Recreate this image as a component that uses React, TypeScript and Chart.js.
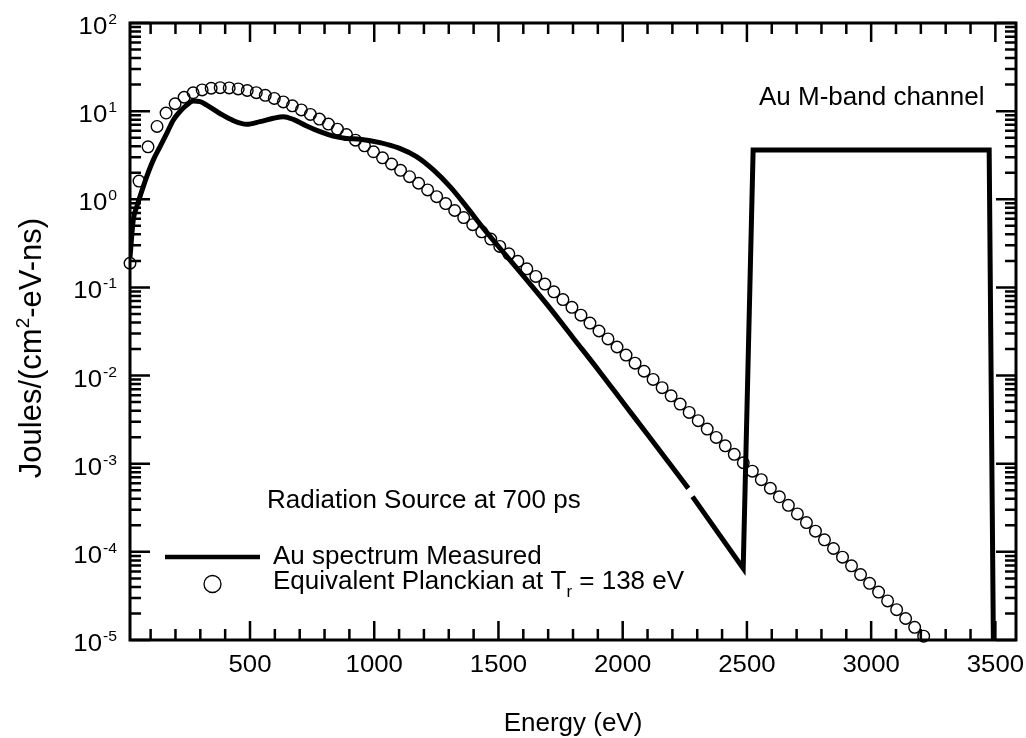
import React, { useEffect, useRef } from "react";
import { Chart, registerables } from "chart.js";

Chart.register(...registerables);

const FONT = '"Liberation Sans", Arial, Helvetica, sans-serif';

// ---- Planckian (open circles) ----
const planckEnergy = [
  17, 53.3, 89.6, 125.9, 162.2, 198.5, 234.8, 271.1, 307.4, 343.7,
  380, 416.3, 452.6, 488.9, 525.2, 561.5, 597.8, 634.1, 670.4, 706.7,
  743, 779.3, 815.6, 851.9, 888.2, 924.5, 960.8, 997.1, 1033.4, 1069.7,
  1106, 1142.3, 1178.6, 1214.9, 1251.2, 1287.5, 1323.8, 1360.1, 1396.4, 1432.7,
  1469, 1505.3, 1541.6, 1577.9, 1614.2, 1650.5, 1686.8, 1723.1, 1759.4, 1795.7,
  1832, 1868.3, 1904.6, 1940.9, 1977.2, 2013.5, 2049.8, 2086.1, 2122.4, 2158.7,
  2195, 2231.3, 2267.6, 2303.9, 2340.2, 2376.5, 2412.8, 2449.1, 2485.4, 2521.7,
  2558, 2594.3, 2630.6, 2666.9, 2703.2, 2739.5, 2775.8, 2812.1, 2848.4, 2884.7,
  2921, 2957.3, 2993.6, 3029.9, 3066.2, 3102.5, 3138.8, 3175.1, 3211.4,
];
const planckValue = [
  0.188, 1.61, 3.94, 6.7, 9.52, 12.13, 14.38, 16.16, 17.42, 18.18,
  18.47, 18.35, 17.88, 17.14, 16.19, 15.11, 13.93, 12.72, 11.5, 10.32,
  9.19, 8.13, 7.14, 6.24, 5.42, 4.69, 4.04, 3.46, 2.956, 2.515,
  2.133, 1.803, 1.52, 1.277, 1.07, 0.8947, 0.7458, 0.6209, 0.5157, 0.4271,
  0.3533, 0.2916, 0.2403, 0.1977, 0.1624, 0.1332, 0.1091, 0.08921, 0.07289, 0.05943,
  0.04843, 0.0394, 0.03203, 0.02602, 0.0211, 0.01709, 0.01384, 0.01119, 0.009044, 0.007298,
  0.005888, 0.004746, 0.003822, 0.003075, 0.002471, 0.001987, 0.001594, 0.001279, 0.001026, 0.0008225,
  0.0006594, 0.000527, 0.0004216, 0.0003371, 0.0002693, 0.0002151, 0.0001716, 0.0001369, 0.0001092, 0.00008702,
  0.00006934, 0.00005518, 0.00004391, 0.00003493, 0.00002778, 0.00002208, 0.00001754, 0.00001393, 0.00001106,
];

// ---- Measured Au spectrum (thick line) ----
const measuredEnergy = [
  17, 30, 44, 57, 84, 111, 138, 165, 191, 218,
  245, 272, 299, 326, 379, 433, 487, 540, 594, 634,
  674, 728, 782, 835, 889, 943, 1023, 1100, 1170, 1238,
  1305, 1372, 1439, 1505, 1600, 1700, 1800, 1908, 2000, 2100,
  2200, 2264,
];
const measuredValue = [
  0.22, 0.58, 0.82, 1.07, 1.8, 2.8, 3.95, 5.6, 7.9, 9.9,
  11.7, 13.0, 12.8, 11.7, 9.4, 7.8, 7.1, 7.6, 8.3, 8.65,
  8.07, 6.8, 5.85, 5.2, 4.9, 4.8, 4.4, 3.8, 3.04, 2.15,
  1.39, 0.82, 0.47, 0.28, 0.135, 0.0617, 0.0269, 0.011, 0.00501, 0.00214,
  0.00091, 0.000525,
];
// M-band channel (straight segments)
const channelEnergy = [2281, 2485, 2525, 3475, 3498];
const channelValue = [0.000423, 0.000065, 3.62, 3.62, 1e-7];

// ---- Axes ----
const X_MIN = 17;
const X_MAX = 3583;
const Y_MIN = 1e-5;
const Y_MAX = 1e2;
const xMajorTicks = [500, 1000, 1500, 2000, 2500, 3000, 3500];
const xTickLabels = ["500", "1000", "1500", "2000", "2500", "3000", "3500"];
const yDecadeExponents = [-5, -4, -3, -2, -1, 0, 1, 2];

const xTitle = "Energy (eV)";
const yTitleParts = ["Joules/(cm", "2", "-eV-ns)"];
const noteChannel = "Au M-band channel";
const noteSource = "Radiation Source at 700 ps";
const legendLine = "Au spectrum Measured";
const legendCircleParts = ["Equivalent Planckian at T", "r", " = 138 eV"];

function drawText(
  ctx: CanvasRenderingContext2D,
  s: string,
  x: number,
  y: number,
  size: number,
  align: CanvasTextAlign = "left",
  sx = 1
) {
  ctx.save();
  ctx.font = `${size}px ${FONT}`;
  ctx.translate(x, y);
  ctx.scale(sx, 1);
  ctx.textAlign = align;
  ctx.textBaseline = "alphabetic";
  ctx.fillText(s, 0, 0);
  ctx.restore();
}
function measure(ctx: CanvasRenderingContext2D, s: string, size: number, sx = 1) {
  ctx.save();
  ctx.font = `${size}px ${FONT}`;
  const w = ctx.measureText(s).width * sx;
  ctx.restore();
  return w;
}

const decorPlugin = {
  id: "decor",
  afterDatasetsDraw(chart: any) {
    const { ctx, chartArea: a, scales } = chart;
    const x = scales.x;
    const y = scales.y;
    ctx.save();
    ctx.strokeStyle = "#000";
    ctx.fillStyle = "#000";
    ctx.lineCap = "butt";

    // ticks (inward, all four sides)
    ctx.lineWidth = 2.5;
    ctx.beginPath();
    for (let v = 100; v <= X_MAX; v += 100) {
      const px = x.getPixelForValue(v);
      if (px < a.left || px > a.right) continue;
      const len = xMajorTicks.includes(v) ? 19 : 11;
      ctx.moveTo(px, a.bottom);
      ctx.lineTo(px, a.bottom - len);
      ctx.moveTo(px, a.top);
      ctx.lineTo(px, a.top + len);
    }
    for (const e of yDecadeExponents) {
      for (let m = 1; m <= 9; m++) {
        const v = m * Math.pow(10, e);
        if (v > Y_MAX * 1.0001 || v < Y_MIN * 0.9999) continue;
        const py = y.getPixelForValue(v);
        const len = m === 1 ? 20 : 11;
        ctx.moveTo(a.left, py);
        ctx.lineTo(a.left + len, py);
        ctx.moveTo(a.right, py);
        ctx.lineTo(a.right - len, py);
      }
    }
    ctx.stroke();

    // frame
    ctx.lineWidth = 3;
    ctx.strokeRect(a.left, a.top, a.right - a.left, a.bottom - a.top);

    // x tick labels
    xMajorTicks.forEach((v, i) => {
      drawText(ctx, xTickLabels[i], x.getPixelForValue(v), a.bottom + 32, 23, "center", 1.12);
    });

    // y tick labels 10^n
    const expRight = a.left - 13;
    for (const e of yDecadeExponents) {
      const py = y.getPixelForValue(Math.pow(10, e));
      const es = String(e);
      const ew = measure(ctx, es, 15, 1.05);
      const x0 = expRight - ew;
      drawText(ctx, es, x0, py + 1, 15, "left", 1.05);
      drawText(ctx, "10", x0 - 1, py + 11, 23, "right", 1.12);
    }

    // axis titles
    drawText(ctx, xTitle, (a.left + a.right) / 2, 731, 26, "center");
    ctx.save();
    ctx.translate(41, 348);
    ctx.rotate(-Math.PI / 2);
    const w0 = measure(ctx, yTitleParts[0], 31);
    const w1 = measure(ctx, yTitleParts[1], 19);
    const w2 = measure(ctx, yTitleParts[2], 31);
    let cx = -(w0 + w1 + w2) / 2;
    drawText(ctx, yTitleParts[0], cx, 0, 31);
    cx += w0;
    drawText(ctx, yTitleParts[1], cx, -12, 19);
    cx += w1;
    drawText(ctx, yTitleParts[2], cx, 0, 31);
    ctx.restore();

    // annotations
    drawText(ctx, noteChannel, 759, 105, 26);
    drawText(ctx, noteSource, 267, 508, 26);

    // legend
    ctx.lineWidth = 4.5;
    ctx.beginPath();
    ctx.moveTo(165, 557);
    ctx.lineTo(260, 557);
    ctx.stroke();
    drawText(ctx, legendLine, 273, 564, 26);
    ctx.lineWidth = 1.3;
    ctx.beginPath();
    ctx.arc(212.5, 584, 8.5, 0, Math.PI * 2);
    ctx.stroke();
    let lx = 273;
    drawText(ctx, legendCircleParts[0], lx, 589, 26);
    lx += measure(ctx, legendCircleParts[0], 26);
    drawText(ctx, legendCircleParts[1], lx, 597, 17);
    lx += measure(ctx, legendCircleParts[1], 17);
    drawText(ctx, legendCircleParts[2], lx, 589, 26);

    ctx.restore();
  },
};

export default function App() {
  const canvasRef = useRef<HTMLCanvasElement | null>(null);

  useEffect(() => {
    const canvas = canvasRef.current;
    if (!canvas) return;
    const chart = new Chart(canvas, {
      type: "scatter",
      data: {
        datasets: [
          {
            label: "Au spectrum Measured",
            data: measuredEnergy.map((e, i) => ({ x: e, y: measuredValue[i] })),
            showLine: true,
            borderColor: "#000",
            borderWidth: 5,
            pointRadius: 0,
            cubicInterpolationMode: "monotone",
            fill: false,
          },
          {
            label: "Au M-band channel",
            data: channelEnergy.map((e, i) => ({ x: e, y: channelValue[i] })),
            showLine: true,
            borderColor: "#000",
            borderWidth: 5,
            pointRadius: 0,
            tension: 0,
            borderJoinStyle: "miter",
            fill: false,
          },
          {
            label: "Equivalent Planckian",
            data: planckEnergy.map((e, i) => ({ x: e, y: planckValue[i] })),
            showLine: false,
            pointRadius: 5.8,
            pointBorderWidth: 1.4,
            pointBorderColor: "#000",
            pointBackgroundColor: "rgba(0,0,0,0)",
            clip: false,
          },
        ],
      } as any,
      options: {
        animation: false,
        responsive: false,
        devicePixelRatio: 1,
        events: [],
        layout: { padding: { top: 23, right: 10, left: 0, bottom: 0 } },
        plugins: { legend: { display: false }, tooltip: { enabled: false } },
        scales: {
          x: {
            type: "linear",
            min: X_MIN,
            max: X_MAX,
            grid: { display: false },
            border: { display: false },
            ticks: { display: false },
            afterFit: (s: any) => {
              s.height = 98;
            },
          },
          y: {
            type: "logarithmic",
            min: Y_MIN,
            max: Y_MAX,
            grid: { display: false },
            border: { display: false },
            ticks: { display: false },
            afterFit: (s: any) => {
              s.width = 130;
            },
          },
        },
      } as any,
      plugins: [decorPlugin],
    });
    return () => chart.destroy();
  }, []);

  return (
    <div style={{ position: "absolute", left: 0, top: 0, width: 1026, height: 738, background: "#fff" }}>
      <canvas ref={canvasRef} width={1026} height={738} style={{ display: "block" }} />
    </div>
  );
}
